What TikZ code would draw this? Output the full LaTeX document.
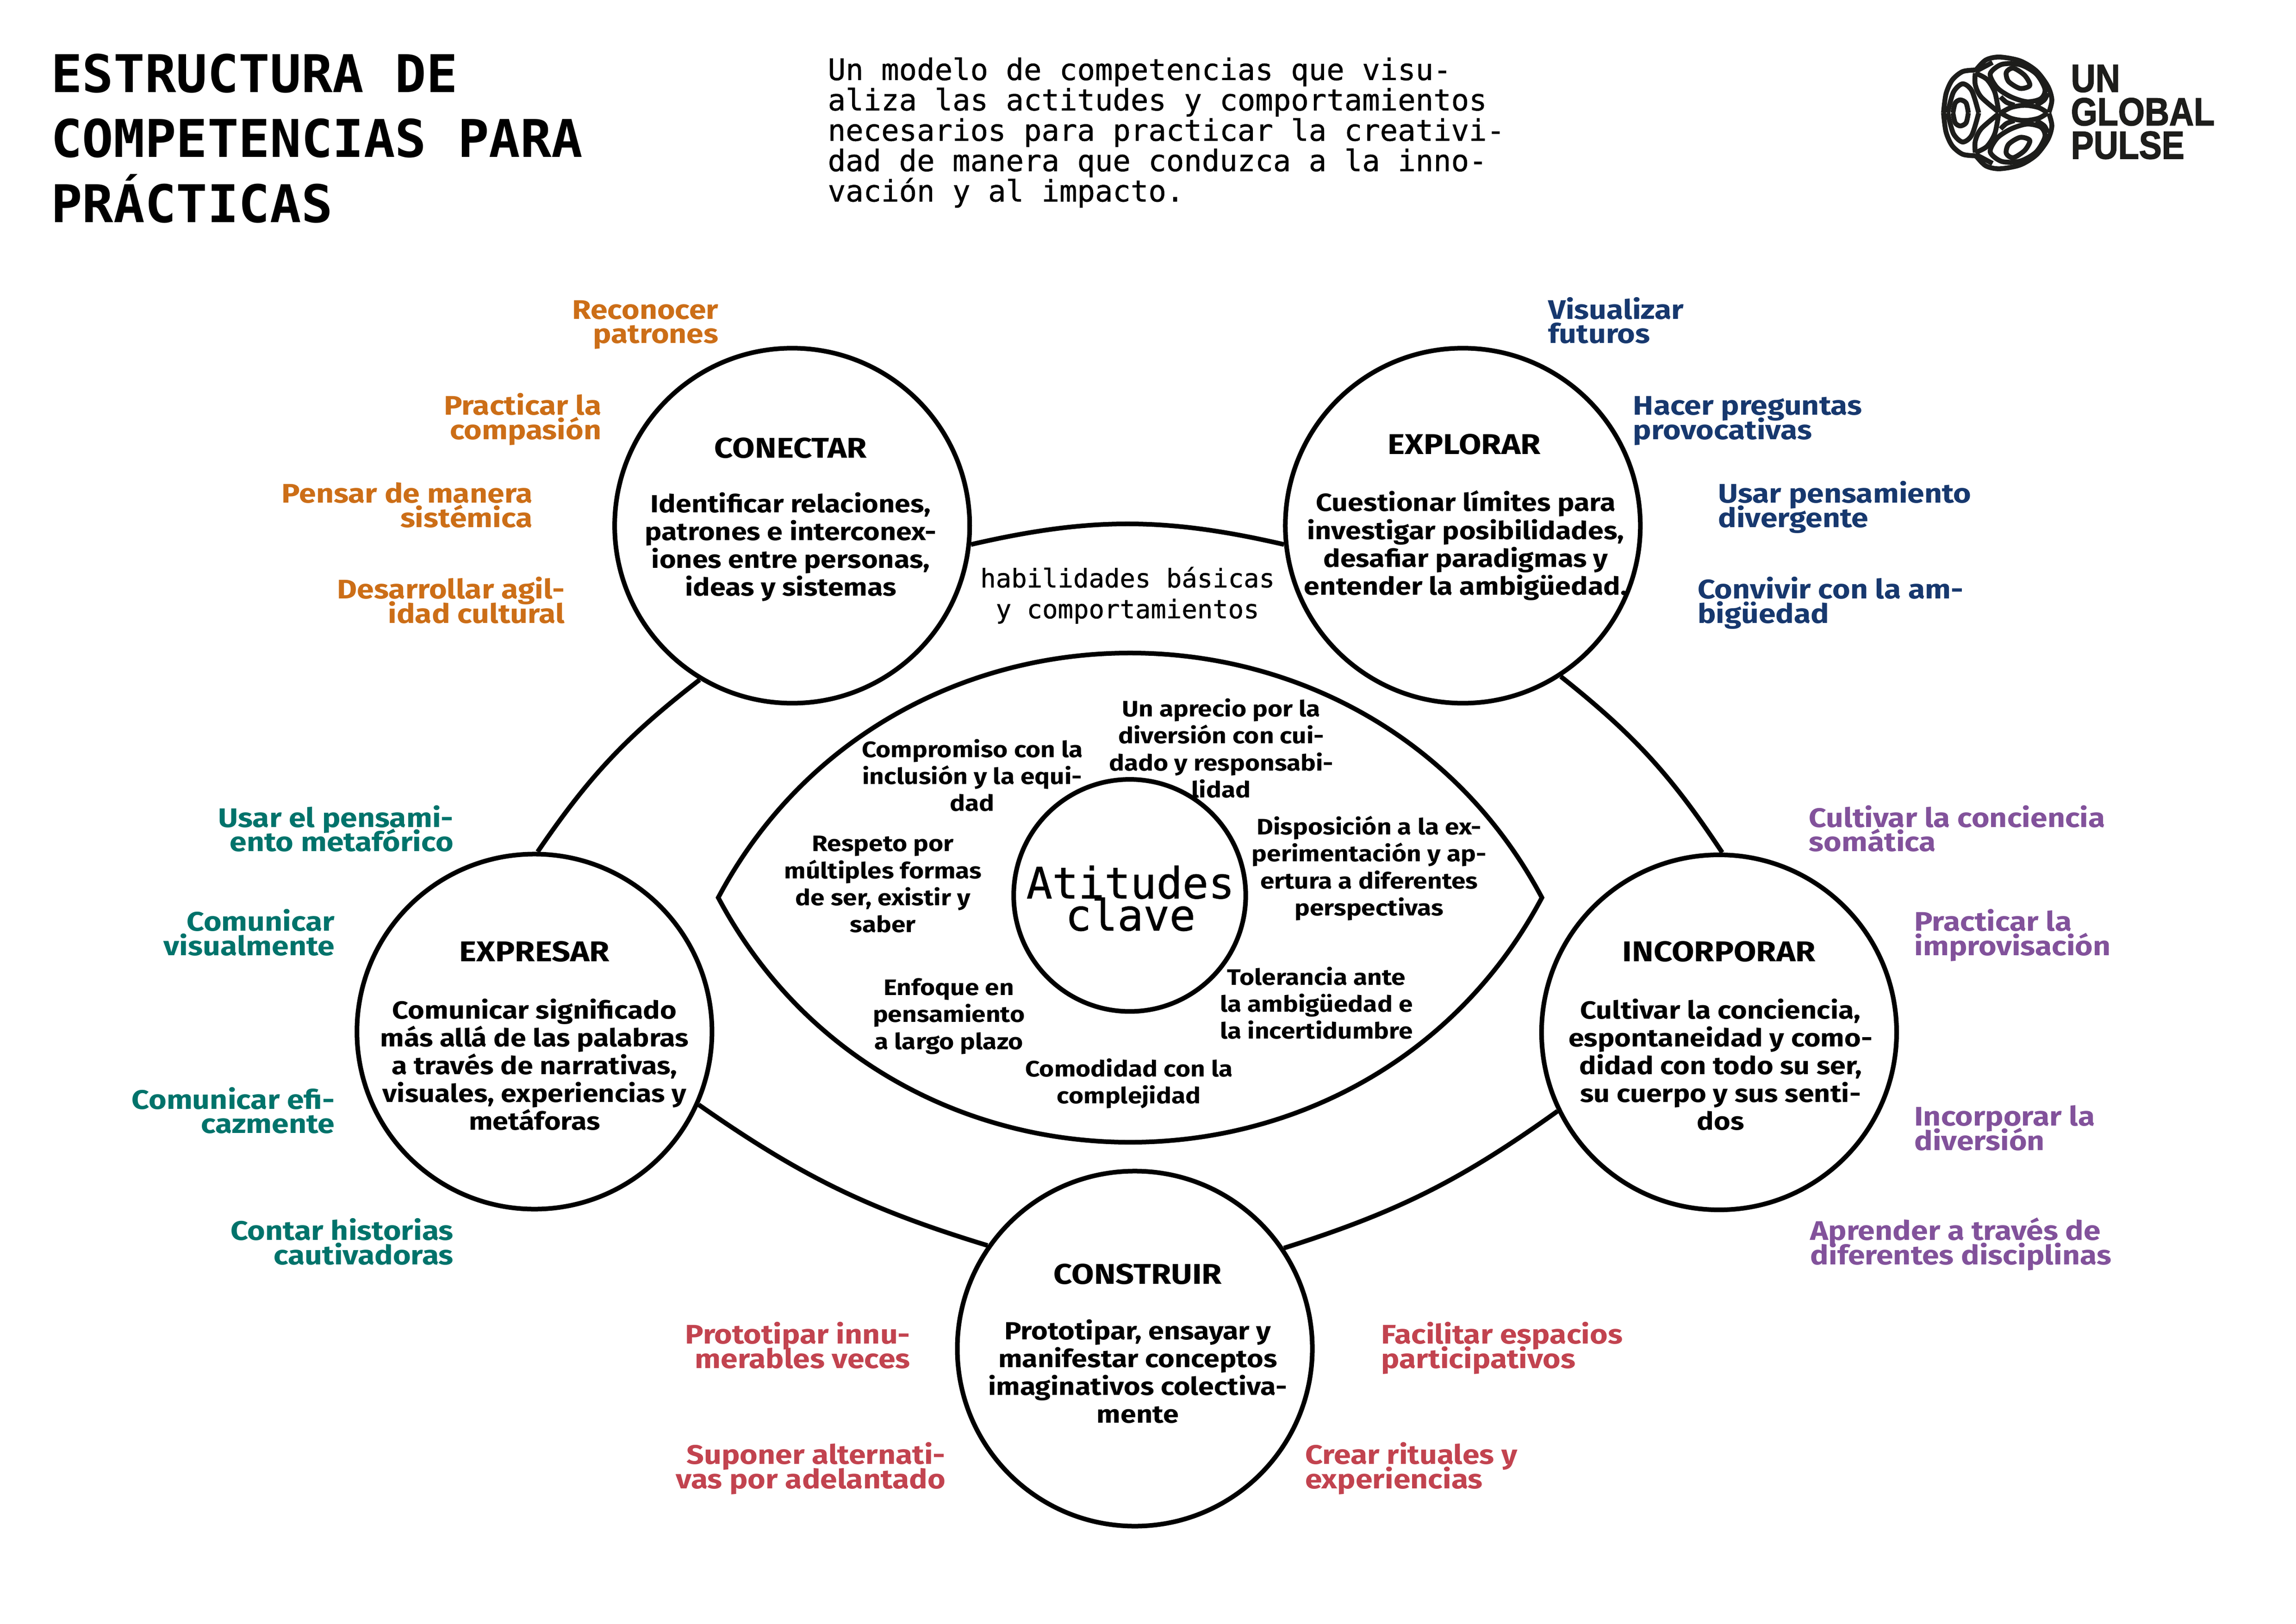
\documentclass[tikz,border=0pt]{standalone}
\usepackage{fontspec}
\setmainfont{Fira Sans}
\newfontfamily\compfont[FakeStretch=1.14]{Fira Sans}
\newfontfamily\monofont{DejaVu Sans Mono}
\newfontfamily\monomed[FakeBold=0.8]{DejaVu Sans Mono}
\newfontfamily\logofont[FakeBold=2]{Liberation Sans}
\lineskiplimit=-20pt
\definecolor{conectarcol}{HTML}{CC6E17}
\definecolor{explorarcol}{HTML}{17386E}
\definecolor{expresarcol}{HTML}{00736B}
\definecolor{incorporarcol}{HTML}{82529B}
\definecolor{construircol}{HTML}{C2434F}
\definecolor{logocol}{HTML}{1D1D1B}
\tikzset{
	compcircle/.style={circle, draw=black, line width=1.8pt, minimum size=4.85cm, inner sep=0pt},
	ringline/.style={black, line width=1.8pt},
	comptitle/.style={font=\compfont\fontsize{11.1}{14}\selectfont\bfseries},
	compbody/.style={align=center, inner sep=0pt, font=\compfont\fontsize{9.65}{10.8}\selectfont\bfseries},
	attbody/.style={align=center, inner sep=0pt, font=\compfont\fontsize{8.7}{10.5}\selectfont\bfseries},
	skillleft/.style={anchor=east, align=right, inner sep=0pt, text height=19pt, text depth=2.5pt, font=\compfont\fontsize{10.45}{9.5}\selectfont\bfseries},
	skillright/.style={anchor=west, align=left, inner sep=0pt, text height=19pt, text depth=2.5pt, font=\compfont\fontsize{10.45}{9.5}\selectfont\bfseries},
	logoline/.style={logocol, line width=1.9pt, line join=round},
}

\begin{document}
\begin{tikzpicture}[x=0.02cm, y=0.02cm]
	\useasboundingbox (0,0) rectangle (1568,-1108.8);
	% header
	\node[anchor=west, align=left, inner sep=0pt, font=\monofont\bfseries\fontsize{20.2}{25.3}\selectfont] (title) at (34.5,-94.5) {ESTRUCTURA DE\\COMPETENCIAS PARA\\PRÁCTICAS};
	\node[anchor=west, align=left, inner sep=0pt, font=\monomed\fontsize{11.5}{11.8}\selectfont] (intro) at (565,-90.5) {Un modelo de competencias que visu-\\aliza las actitudes y comportamientos\\necesarios para practicar la creativi-\\dad de manera que conduzca a la inno-\\vación y al impacto.};
	% logo
	\foreach \flip in {1,-1} {
		\begin{scope}[shift={(1296.3,-77.1)}, x=0.00315cm, y=-0.002096cm, yscale=\flip, shift={(0,-555)}]
			\draw[logoline] plot[smooth] coordinates {(655,552) (668,470) (650,380) (600,280) (530,215) (440,190) (380,210) (335,280)};
			\draw[logoline] plot[smooth] coordinates {(335,275) (280,285) (235,340) (208,430) (197,555)};
			\draw[logoline] plot[smooth cycle] coordinates {(400,300) (450,238) (530,240) (600,300) (638,400) (620,462) (560,482) (490,450) (430,390)};
			\draw[logoline] plot[smooth cycle] coordinates {(470,290) (500,262) (550,310) (572,375) (530,395) (480,350)};
			\draw[logoline] plot[smooth] coordinates {(215,555) (240,420) (280,365) (320,410) (350,555)};
			\draw[logoline] plot[smooth] coordinates {(238,555) (248,490) (270,470) (295,490) (305,555)};
			\draw[logoline] plot[smooth] coordinates {(437,550) (420,420) (385,335) (335,295)};
			\draw[logoline] plot[smooth] coordinates {(437,550) (360,450) (335,370) (335,295)};
			\draw[logoline] plot[smooth] coordinates {(440,560) (490,520) (550,505) (610,520) (650,555)};
			\draw[logoline] plot[smooth] coordinates {(445,450) (470,485) (505,505)};
			\draw[logoline] plot[smooth] coordinates {(600,505) (635,470) (650,425)};
			\draw[logoline] (335,285) -- (410,225);
		\end{scope}
	}
	\node[xscale=0.87, anchor=west, align=left, inner sep=0pt, logocol, font=\logofont\bfseries\fontsize{15.2}{13}\selectfont] (logotext) at (1414,-76.5) {UN\\GLOBAL\\PULSE};
	% skill circles
	\node[compcircle] (conectar) at (541,-359) {};
	\node[compcircle] (explorar) at (999,-359) {};
	\node[compcircle] (expresar) at (365,-704.5) {};
	\node[compcircle] (incorporar) at (1174,-705) {};
	\node[compcircle] (construir) at (775,-921) {};
	% outer ring
	\draw[ringline] (conectar.-6) to[bend left=13] (explorar.186);
	\draw[ringline] (conectar.239) to[bend right=9] (expresar.89);
	\draw[ringline] (explorar.-57) to[bend left=9] (incorporar.89);
	\draw[ringline] (expresar.-24) to[bend right=9] (construir.145);
	\draw[ringline] (construir.34) to[bend right=9] (incorporar.206);
	% eye
	\coordinate (eyeleft) at (490.5,-613);
	\coordinate (eyeright) at (1053,-613);
	\draw[ringline] (eyeleft) to[bend left=62, looseness=1.15] (eyeright) to[bend left=62, looseness=1.15] (eyeleft) -- cycle;
	\node[circle, draw=black, line width=1.8pt, minimum size=3.17cm, inner sep=0pt] (claves) at (771.5,-611.5) {};
	\node[align=center, inner sep=0pt, font=\monomed\fontsize{16.8}{12.5}\selectfont] (clavestext) at (772,-613.5) {Atitudes\\clave};
	\node[align=center, inner sep=0pt, font=\monomed\fontsize{10}{12}\selectfont] (basicas) at (770,-406.5) {habilidades básicas\\y comportamientos};
	% conectar
	\node[comptitle] (conectartitle) at (540,-306) {CONECTAR};
	\node[compbody] (conectarbody) at (540,-373.5) {Identificar relaciones,\\patrones e interconex-\\iones entre personas,\\ideas y sistemas};
	\node[skillleft, conectarcol] (con1) at (491,-220) {Reconocer\\patrones};
	\node[skillleft, conectarcol] (con2) at (411,-285.5) {Practicar la\\compasión};
	\node[skillleft, conectarcol] (con3) at (364,-345.5) {Pensar de manera\\sistémica};
	\node[skillleft, conectarcol] (con4) at (386,-411) {Desarrollar agil-\\idad cultural};
	% explorar
	\node[comptitle] (explorartitle) at (1000,-303.5) {EXPLORAR};
	\node[compbody] (explorarbody) at (1001,-372.5) {Cuestionar límites para\\investigar posibilidades,\\desafiar paradigmas y\\entender la ambigüedad.};
	\node[skillright, explorarcol] (exp1) at (1057,-220) {Visualizar\\futuros};
	\node[skillright, explorarcol] (exp2) at (1115,-285.5) {Hacer preguntas\\provocativas};
	\node[skillright, explorarcol] (exp3) at (1173,-345.5) {Usar pensamiento\\divergente};
	\node[skillright, explorarcol] (exp4) at (1159,-411) {Convivir con la am-\\bigüedad};
	% expresar
	\node[comptitle] (expresartitle) at (365,-650) {EXPRESAR};
	\node[compbody] (expresarbody) at (365,-727) {Comunicar significado\\más allá de las palabras\\a través de narrativas,\\visuales, experiencias y\\metáforas};
	\node[skillleft, expresarcol] (epr1) at (310,-567) {Usar el pensami-\\ento metafórico};
	\node[skillleft, expresarcol] (epr2) at (229,-638) {Comunicar\\visualmente};
	\node[skillleft, expresarcol] (epr3) at (229,-759.5) {Comunicar efi-\\cazmente};
	\node[skillleft, expresarcol] (epr4) at (310,-849) {Contar historias\\cautivadoras};
	% incorporar
	\node[comptitle] (incorporartitle) at (1174,-650) {INCORPORAR};
	\node[compbody] (incorporarbody) at (1175,-727) {Cultivar la conciencia,\\espontaneidad y como-\\didad con todo su ser,\\su cuerpo y sus senti-\\dos};
	\node[skillright, incorporarcol] (inc1) at (1235,-567) {Cultivar la conciencia\\somática};
	\node[skillright, incorporarcol] (inc2) at (1307,-638) {Practicar la\\improvisación};
	\node[skillright, incorporarcol] (inc3) at (1307,-771) {Incorporar la\\diversión};
	\node[skillright, incorporarcol] (inc4) at (1236,-849) {Aprender a través de\\diferentes disciplinas};
	% construir
	\node[comptitle] (construirtitle) at (777,-870) {CONSTRUIR};
	\node[compbody] (construirbody) at (777,-936.5) {Prototipar, ensayar y\\manifestar conceptos\\imaginativos colectiva-\\mente};
	\node[skillleft, construircol] (cns1) at (622,-920) {Prototipar innu-\\merables veces};
	\node[skillleft, construircol] (cns2) at (646,-1002) {Suponer alternati-\\vas por adelantado};
	\node[skillright, construircol] (cns3) at (943,-920) {Facilitar espacios\\participativos};
	\node[skillright, construircol] (cns4) at (891,-1002) {Crear rituales y\\experiencias};
	% attitudes in the eye
	\node[attbody] (att1) at (664,-529.5) {Compromiso con la\\inclusión y la equi-\\dad};
	\node[attbody] (att2) at (834,-511) {Un aprecio por la\\diversión con cui-\\dado y responsabi-\\lidad};
	\node[attbody] (att3) at (603,-604) {Respeto por\\múltiples formas\\de ser, existir y\\saber};
	\node[attbody] (att4) at (935,-593) {Disposición a la ex-\\perimentación y ap-\\ertura a diferentes\\perspectivas};
	\node[attbody] (att5) at (648,-694) {Enfoque en\\pensamiento\\a largo plazo};
	\node[attbody] (att6) at (899,-685) {Tolerancia ante\\la ambigüedad e\\la incertidumbre};
	\node[attbody] (att7) at (771,-740) {Comodidad con la\\complejidad};
\end{tikzpicture}
\end{document}
